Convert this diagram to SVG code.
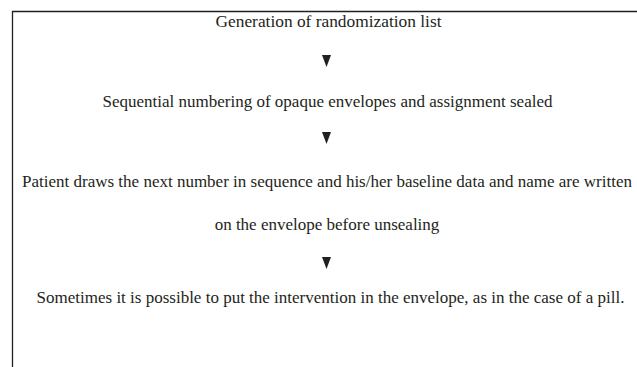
<svg xmlns="http://www.w3.org/2000/svg" width="637" height="367" viewBox="0 0 637 367">
<style>
text{font-family:"Liberation Serif","Times New Roman",serif;font-size:17px;fill:#231f20;text-anchor:middle}
.frame{fill:none;stroke:#231f20;stroke-width:1.3}
.arrow{fill:#231f20}
</style>
<rect width="637" height="367" fill="#fff"/>
<path class="frame" d="M12.5,367 V11.5 H637"/>
<g id="n1"><text x="328.5" y="27" textLength="226" lengthAdjust="spacingAndGlyphs">Generation of randomization list</text></g>
<g id="n2"><text x="327.5" y="107">Sequential numbering of opaque envelopes and assignment sealed</text></g>
<g id="n3"><text x="327" y="187">Patient draws the next number in sequence and his/her baseline data and name are written</text><text x="327" y="230">on the envelope before unsealing</text></g>
<g id="n4"><text x="330.5" y="303">Sometimes it is possible to put the intervention in the envelope, as in the case of a pill.</text></g>
<g id="connectors">
<polygon class="arrow" points="322,55 331,55 326.5,67"/>
<polygon class="arrow" points="322,132 331,132 326.5,144"/>
<polygon class="arrow" points="322,257 331,257 326.5,269"/>
</g>
</svg>
